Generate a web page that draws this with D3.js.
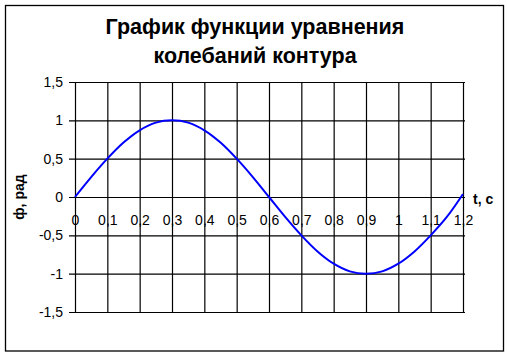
<!DOCTYPE html>
<html lang="ru">
<head>
<meta charset="utf-8">
<title>График функции уравнения колебаний контура</title>
<script src="https://cdn.jsdelivr.net/npm/d3@7"></script>
<style>
  body { margin: 0; background: #fff; }
  svg { display: block; font-family: "Liberation Sans", Arial, sans-serif; }
</style>
</head>
<body>
<div id="chart"></div>
<script>
// values
const titleLines = ["График функции уравнения", "колебаний контура"];
const yTicks = [-1.5, -1, -0.5, 0, 0.5, 1, 1.5];
const xTicks = [0, 0.1, 0.2, 0.3, 0.4, 0.5, 0.6, 0.7, 0.8, 0.9, 1, 1.1, 1.2];
const tValues = [0, 0.05, 0.1, 0.15, 0.2, 0.25, 0.3, 0.35, 0.4, 0.45, 0.5, 0.55, 0.6,
                 0.65, 0.7, 0.75, 0.8, 0.85, 0.9, 0.95, 1, 1.05, 1.1, 1.15, 1.2];
const phiValues = [0, 0.26, 0.5, 0.71, 0.87, 0.97, 1.0, 0.97, 0.87, 0.71, 0.5, 0.26, 0,
                   -0.26, -0.5, -0.71, -0.87, -0.97, -1.0, -0.97, -0.87, -0.71, -0.5, -0.26, 0.04];

const width = 509, height = 356;
const plot = { left: 75, right: 463, top: 82, bottom: 312 };

const ru = d3.formatLocale({ decimal: ",", thousands: " ", grouping: [3], currency: ["", ""], minus: "-" });
const fmt = ru.format("~g");

const svg = d3.select("#chart").append("svg")
  .attr("width", width).attr("height", height);

svg.append("rect")
  .attr("x", 5.5).attr("y", 5.5)
  .attr("width", 498).attr("height", 345.5)
  .attr("fill", "#fff").attr("stroke", "#000").attr("stroke-width", 1.3);

const x = d3.scaleLinear().domain([0, 1.2]).range([plot.left, plot.right]);
const y = d3.scaleLinear().domain([-1.5, 1.5]).range([plot.bottom, plot.top]);

// x labels sit on the zero line, grid drawn over them
const xLab = svg.append("g")
  .attr("transform", `translate(0,${y(0)})`)
  .call(d3.axisBottom(x).tickValues(xTicks).tickSize(0).tickPadding(18).tickFormat(fmt));
xLab.select(".domain").remove();
xLab.selectAll("text").attr("font-size", 14).attr("font-family", null).attr("fill", "#000");

const yLab = svg.append("g")
  .attr("transform", `translate(${plot.left - 6},0)`)
  .call(d3.axisLeft(y).tickValues(yTicks).tickSize(0).tickPadding(6).tickFormat(fmt));
yLab.select(".domain").remove();
yLab.selectAll("text").attr("font-size", 14).attr("font-family", null).attr("fill", "#000");

// grid
const yGrid = svg.append("g")
  .attr("transform", `translate(${plot.left - 6},0)`)
  .call(d3.axisLeft(y).tickValues(yTicks).tickSize(-(plot.right - plot.left + 8)).tickFormat(""));
yGrid.select(".domain").remove();
yGrid.selectAll("line").attr("stroke", "#000").attr("stroke-width", 1.2);

const xGrid = svg.append("g")
  .attr("transform", `translate(0,${plot.bottom})`)
  .call(d3.axisBottom(x).tickValues(xTicks).tickSize(-(plot.bottom - plot.top)).tickFormat(""));
xGrid.select(".domain").remove();
xGrid.selectAll("line").attr("stroke", "#000").attr("stroke-width", 1.2);

// curve
const line = d3.line()
  .x((d, i) => x(tValues[i]))
  .y(d => y(d))
  .curve(d3.curveCatmullRom);

svg.append("path")
  .datum(phiValues)
  .attr("d", line)
  .attr("fill", "none")
  .attr("stroke", "#0000ff")
  .attr("stroke-width", 2);

// title
svg.append("g")
  .attr("font-size", 21.5).attr("font-weight", "bold").attr("text-anchor", "middle")
  .selectAll("text")
  .data(titleLines)
  .join("text")
  .attr("x", 255)
  .attr("y", (d, i) => 34 + i * 29)
  .text(d => d);

// axis titles
svg.append("text")
  .attr("transform", `translate(24,${y(0)}) rotate(-90)`)
  .attr("text-anchor", "middle")
  .attr("font-size", 14).attr("font-weight", "bold")
  .text("ф, рад");

svg.append("text")
  .attr("x", 473).attr("y", 204)
  .attr("font-size", 14).attr("font-weight", "bold")
  .text("t, с");
</script>
</body>
</html>
